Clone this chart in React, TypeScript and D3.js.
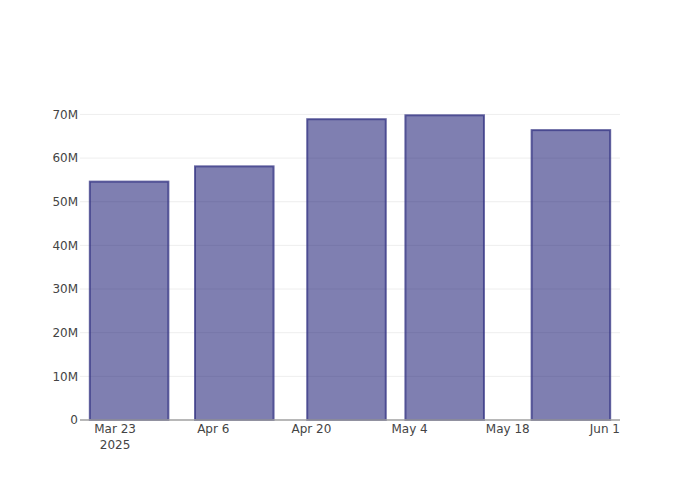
import * as d3 from "d3";

const dates = ["2025-03-25", "2025-04-09", "2025-04-25", "2025-05-09", "2025-05-27"];
const values = [54.6e6, 58.1e6, 68.9e6, 69.8e6, 66.4e6];
const xTicks = ["2025-03-23", "2025-04-06", "2025-04-20", "2025-05-04", "2025-05-18", "2025-06-01"];
const yTicks = [0, 10e6, 20e6, 30e6, 40e6, 50e6, 60e6, 70e6];

const W = 700;
const H = 500;
const margin = { top: 100, right: 80, bottom: 80, left: 80 };
const parse = d3.utcParse("%Y-%m-%d");
const fmtTick = d3.utcFormat("%b %-d");
const font = "'DejaVu Sans', verdana, sans-serif";

export default function App() {
  const x = d3
    .scaleUtc()
    .domain([parse("2025-03-18")!, parse("2025-06-03")!])
    .range([margin.left, W - margin.right]);
  const y = d3
    .scaleLinear()
    .domain([0, 73.3e6])
    .range([H - margin.bottom, margin.top]);

  const dayPx = x(parse("2025-03-19")!) - x(parse("2025-03-18")!);
  const barW = 14 * 0.8 * dayPx;

  return (
    <svg
      width={W}
      height={H}
      style={{ position: "absolute", left: 0, top: 0, background: "#fff" }}
      fontFamily={font}
    >
      {yTicks.slice(1).map((t) => (
        <line
          key={t}
          x1={margin.left}
          x2={W - margin.right}
          y1={y(t)}
          y2={y(t)}
          stroke="#eee"
          strokeWidth={1}
        />
      ))}
      {dates.map((d, i) => {
        const cx = x(parse(d)!);
        return (
          <rect
            key={d}
            x={cx - barW / 2}
            y={y(values[i])}
            width={barW}
            height={y(0) - y(values[i])}
            fill="rgba(0,0,100,0.5)"
            stroke="rgba(50,50,130,0.75)"
            strokeWidth={2}
          />
        );
      })}
      <line
        x1={margin.left}
        x2={W - margin.right}
        y1={y(0)}
        y2={y(0)}
        stroke="#a0a0a0"
        strokeWidth={1.5}
      />
      {yTicks.map((t) => (
        <text
          key={t}
          x={margin.left - 2}
          y={y(t)}
          dy="0.35em"
          textAnchor="end"
          fontSize={12}
          fill="#444"
        >
          {t === 0 ? "0" : `${t / 1e6}M`}
        </text>
      ))}
      {xTicks.map((t, i) => {
        const tx = x(parse(t)!);
        const isLast = i === xTicks.length - 1;
        return (
          <g key={t}>
            <text
              x={isLast ? W - margin.right : tx}
              y={y(0) + 13}
              textAnchor={isLast ? "end" : "middle"}
              fontSize={12}
              fill="#444"
            >
              {fmtTick(parse(t)!)}
            </text>
            {i === 0 && (
              <text x={tx} y={y(0) + 29} textAnchor="middle" fontSize={12} fill="#444">
                2025
              </text>
            )}
          </g>
        );
      })}
    </svg>
  );
}
